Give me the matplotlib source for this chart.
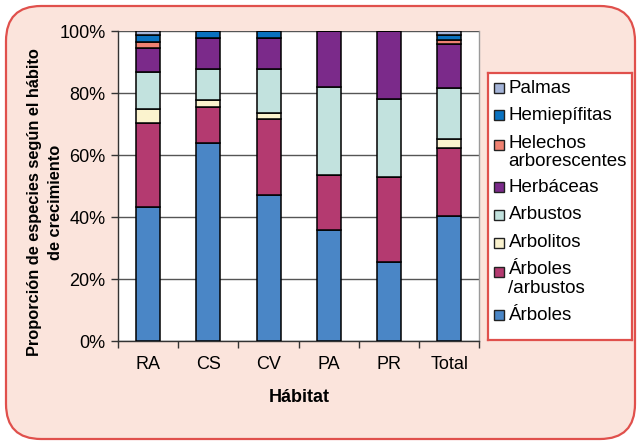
import matplotlib
matplotlib.use("Agg")
import matplotlib.pyplot as plt
from matplotlib.patches import FancyBboxPatch, Rectangle
from matplotlib.ticker import PercentFormatter
import numpy as np

plt.rcParams['font.family'] = ['Liberation Sans', 'DejaVu Sans']

habitats = ["RA", "CS", "CV", "PA", "PR", "Total"]

# Share of species (%) per growth habit, stacked bottom to top
arboles = [43.1, 63.8, 47.1, 35.9, 25.4, 40.2]
arboles_arbustos = [27.3, 11.8, 24.4, 17.8, 27.4, 22.0]
arbolitos = [4.4, 2.0, 2.0, 0.0, 0.0, 3.1]
arbustos = [11.9, 10.2, 14.3, 28.2, 25.3, 16.2]
herbaceas = [7.7, 10.1, 10.1, 18.1, 21.9, 14.4]
helechos = [2.0, 0.0, 0.0, 0.0, 0.0, 1.3]
hemiepifitas = [2.4, 2.1, 2.1, 0.0, 0.0, 1.5]
palmas = [1.2, 0.0, 0.0, 0.0, 0.0, 1.3]

series = [
    ("Árboles", arboles, "#4A86C6"),
    ("Árboles\n/arbustos", arboles_arbustos, "#B43A70"),
    ("Arbolitos", arbolitos, "#FBF3CE"),
    ("Arbustos", arbustos, "#C2E2DE"),
    ("Herbáceas", herbaceas, "#7B2A8A"),
    ("Helechos\narborescentes", helechos, "#F08272"),
    ("Hemiepífitas", hemiepifitas, "#0A72C0"),
    ("Palmas", palmas, "#A4B4D8"),
]

W, H = 638, 442
fig = plt.figure(figsize=(W / 100, H / 100), dpi=100)
fig.patch.set_facecolor("white")

def fx(px):
    return px / W

def fy(py):
    return 1 - py / H

# rounded panel behind everything
panel = FancyBboxPatch((fx(6), fy(439)), fx(629), 433 / H,
                       boxstyle="round,pad=0,rounding_size=0.055",
                       transform=fig.transFigure, facecolor="#FBE4DC",
                       edgecolor="#E0504C", linewidth=1.6, zorder=-5,
                       mutation_aspect=W / H)
fig.patches.append(panel)

ax = fig.add_axes([fx(118), fy(341), fx(479.5 - 118), (341 - 31) / H])
ax.set_facecolor("white")

x = np.arange(len(habitats))
bottom = np.zeros(len(habitats))
for name, vals, color in series:
    vals = np.array(vals)
    ax.bar(x, vals, width=0.4, bottom=bottom, color=color,
           edgecolor="black", linewidth=1.1, zorder=3)
    bottom += vals

ax.set_xlim(-0.5, len(habitats) - 0.5)
ax.set_ylim(0, 100)
ax.set_yticks(np.arange(0, 101, 20))
ax.yaxis.set_major_formatter(PercentFormatter(decimals=0))
ax.set_xticks(x)
ax.set_xticklabels(habitats)
ax.set_xticks(np.arange(-0.5, len(habitats), 1), minor=True)
ax.tick_params(axis="x", which="major", length=0, labelsize=13, pad=11)
ax.tick_params(axis="x", which="minor", length=5, width=1, color="#333333")
ax.tick_params(axis="y", length=5, width=1, color="#333333", labelsize=13, pad=4)
ax.grid(axis="y", color="#555555", linewidth=1.0, zorder=0)
for s in ["left", "bottom"]:
    ax.spines[s].set_color("#333333")
    ax.spines[s].set_linewidth(1.0)
ax.spines["top"].set_visible(False)
ax.spines["right"].set_color("#9A9A9A")
ax.spines["right"].set_linewidth(1.0)

ax.set_xlabel("Hábitat", fontsize=13, fontweight="bold", labelpad=11)
fig.text(fx(45), fy(202), "Proporción de especies según el hábito\nde crecimiento",
         rotation=90, ha="center", va="center", multialignment="center",
         fontsize=11.8, fontweight="bold", linespacing=1.55)

# legend box
lg = fig.add_axes([fx(487.5), fy(340), fx(632 - 487.5), (340 - 72.5) / H])
lg.set_xlim(0, 632 - 487.5)
lg.set_ylim(340 - 72.5, 0)
lg.set_xticks([])
lg.set_yticks([])
lg.set_facecolor("white")
for s in lg.spines.values():
    s.set_color("#E0504C")
    s.set_linewidth(1.6)

row_y = [15.5, 42.5, 72.5, 114.5, 142, 170, 199.5, 242.5]
for (name, vals, color), yy in zip(series[::-1], row_y):
    lg.add_patch(Rectangle((6, yy - 5), 10, 10, facecolor=color,
                           edgecolor="#222222", linewidth=1.0))
    if "\n" in name:
        # first line sits level with the swatch
        lg.text(21, yy - 10.5, name, ha="left", va="top", fontsize=13.5,
                linespacing=1.08)
    else:
        lg.text(21, yy, name, ha="left", va="center", fontsize=13.5)

fig.savefig("out.png", dpi=100, facecolor=fig.get_facecolor())
